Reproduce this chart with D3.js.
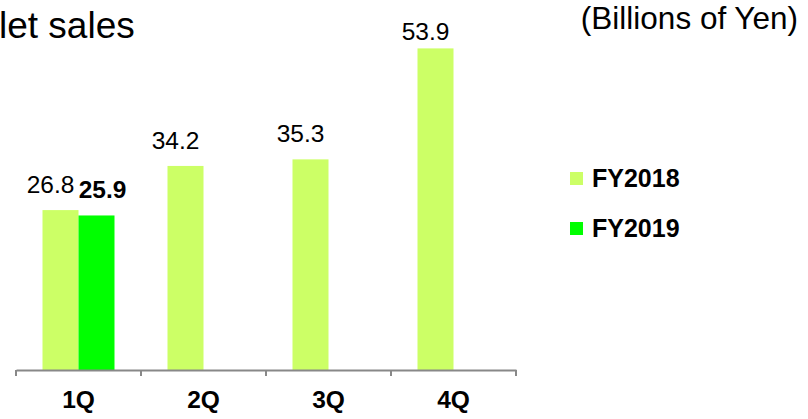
<!DOCTYPE html>
<html>
<head>
<meta charset="utf-8">
<script src="https://cdn.jsdelivr.net/npm/d3@7"></script>
<style>
  html, body { margin: 0; padding: 0; background: #fff; }
  svg { display: block; font-family: "Liberation Sans", Arial, sans-serif; }
</style>
</head>
<body>
<svg id="chart" width="808" height="419"></svg>
<script>
// Quarterly tablet sales, billions of yen
const quarters = ["1Q", "2Q", "3Q", "4Q"];
const seriesNames = ["FY2018", "FY2019"];
const fy2018 = [26.8, 34.2, 35.3, 53.9];
const fy2019 = [25.9, null, null, null];
const seriesColors = ["#ccff66", "#00ff00"];

const svg = d3.select("#chart");

const x = d3.scaleBand().domain(quarters).range([16, 516]).padding(0);
const inner = d3.scaleBand().domain(seriesNames).range([-36, 36]).padding(0);
const y = d3.scaleLinear().domain([0, 60]).range([370, 12]);

const rows = [];
seriesNames.forEach((s, si) => {
  const vals = si === 0 ? fy2018 : fy2019;
  quarters.forEach((q, qi) => {
    if (vals[qi] != null) rows.push({ series: s, si, quarter: q, value: vals[qi] });
  });
});

// Bars
svg.append("g").selectAll("rect").data(rows).join("rect")
  .attr("x", d => x(d.quarter) + x.bandwidth() / 2 + inner(d.series))
  .attr("y", d => y(d.value))
  .attr("width", inner.bandwidth())
  .attr("height", d => y(0) - y(d.value))
  .attr("fill", d => seriesColors[d.si]);

// Value labels
svg.append("g").selectAll("text").data(rows).join("text")
  .attr("x", d => x(d.quarter) + x.bandwidth() / 2 + inner(d.series) + inner.bandwidth() / 2 + (d.si === 0 ? -10 : 6))
  .attr("y", d => Math.max(y(d.value) - 17, 40))
  .attr("text-anchor", "middle")
  .attr("font-size", 24.5)
  .attr("font-weight", d => d.si === 1 ? "bold" : "normal")
  .attr("fill", "#000")
  .text(d => d.value.toFixed(1));

// Category axis
const axis = svg.append("g").attr("transform", `translate(0,${y(0)})`)
  .call(d3.axisBottom(x).tickSize(0).tickSizeOuter(0).tickPadding(21));
axis.select(".domain").attr("stroke", "#888").attr("stroke-width", 2);
axis.selectAll(".tick text")
  .attr("font-size", 24.5).attr("font-weight", "bold").attr("fill", "#000")
  .attr("font-family", "'Liberation Sans', Arial, sans-serif");

// Dividing ticks at band edges
const edges = quarters.map(q => x(q)).concat([x.range()[1]]);
axis.selectAll("line.sep").data(edges).join("line")
  .attr("class", "sep")
  .attr("x1", d => d).attr("x2", d => d)
  .attr("y1", 0).attr("y2", 6)
  .attr("stroke", "#888").attr("stroke-width", 2);

// Title and unit
svg.append("text").attr("x", -1).attr("y", 38)
  .attr("font-size", 37).attr("fill", "#000").text("let sales");
svg.append("text").attr("x", 798).attr("y", 29).attr("text-anchor", "end")
  .attr("font-size", 31.5).attr("fill", "#000").text("(Billions of Yen)");

// Legend
const legend = svg.append("g").selectAll("g").data(seriesNames).join("g")
  .attr("transform", (d, i) => `translate(570,${172 + i * 50})`);
legend.append("rect").attr("width", 13).attr("height", 13)
  .attr("fill", (d, i) => seriesColors[i]);
legend.append("text").attr("x", 22).attr("y", 15)
  .attr("font-size", 25).attr("font-weight", "bold").attr("fill", "#000")
  .text(d => d);
</script>
</body>
</html>
